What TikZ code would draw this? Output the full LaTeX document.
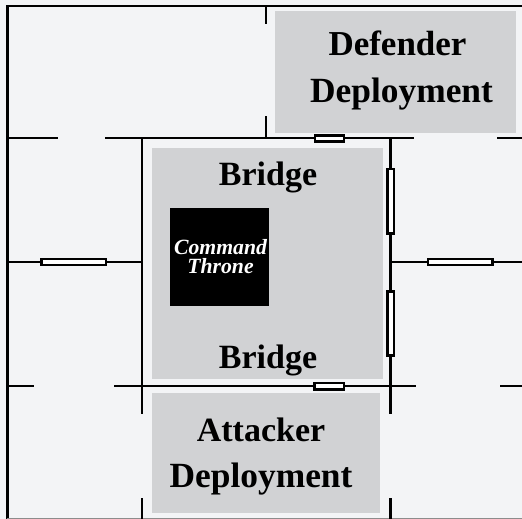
\documentclass[tikz,border=0pt]{standalone}
\usepackage{fontspec}
\setmainfont{Liberation Serif}
\definecolor{floorc}{HTML}{F3F4F6}
\definecolor{zonec}{HTML}{D1D2D4}
\tikzset{
  wall/.style={draw=black,line width=2.1pt},
  outer/.style={draw=black,line width=2.4pt},
  door/.style={draw=black,fill=white,line width=2.1pt},
  zone/.style={fill=zonec,draw=none},
  lab/.style={font=\fontsize{34}{42}\selectfont\bfseries,align=center,text=black,inner sep=0pt,anchor=base},
  throne/.style={font=\fontsize{21.7}{19}\selectfont\bfseries\itshape,align=center,text=white,inner sep=0pt}
}
\newcommand{\widerlab}{\fontsize{35.4}{42}\selectfont}
\begin{document}
\begin{tikzpicture}[x=1pt,y=-1pt]
\useasboundingbox (0,0) rectangle (522,519);
\fill[floorc] (0,0) rectangle (522,519);
% zones
\fill[zone] (275,11) rectangle (516,133);
\fill[zone] (152,148) rectangle (383,379);
\fill[zone] (152,393) rectangle (380,513);
\fill[black] (169.5,207.5) rectangle (269,306);
% outer walls
\draw[outer] (522,6) -- (7.5,6) -- (7.5,519);
\draw[draw=black!45,line width=1pt] (7,518.5) -- (522,518.5);
% inner walls
\draw[wall] (7,138) -- (58,138);
\draw[wall] (105,138) -- (414,138);
\draw[wall] (497,138) -- (522,138);
\draw[wall] (7,386) -- (34,386);
\draw[wall] (114,386) -- (416,386);
\draw[wall] (500,386) -- (522,386);
\draw[wall] (7,262) -- (142,262);
\draw[wall] (390.5,262) -- (522,262);
\draw[wall] (142,138) -- (142,414);
\draw[wall] (142,498) -- (142,519);
\draw[wall] (390.5,138) -- (390.5,414);
\draw[wall] (390.5,498) -- (390.5,519);
\draw[wall] (266,6) -- (266,24);
\draw[wall] (266,116) -- (266,138);
% doors
\draw[door] (315,135.5) rectangle (344,141.5);
\draw[door] (314.5,383) rectangle (344,389.5);
\draw[door] (387.5,169) rectangle (394,233.5);
\draw[door] (387.5,291.5) rectangle (394,355.5);
\draw[door] (41.5,259) rectangle (106,265);
\draw[door] (428,259) rectangle (492.5,265);
% labels
\node[lab,font=\fontsize{35}{42}\selectfont\bfseries] (def1) at (397.5,56) {Defender};
\node[lab,font=\widerlab\bfseries] (def2) at (401.5,102) {Deployment};
\node[lab] (br1) at (268,185.5) {Bridge};
\node[lab] (br2) at (268,368) {Bridge};
\node[lab] (att1) at (261,441) {Attacker};
\node[lab,font=\widerlab\bfseries] (att2) at (261,487) {Deployment};
\node[throne] (thr) at (220.5,257) {Command\\Throne};
\end{tikzpicture}
\end{document}
